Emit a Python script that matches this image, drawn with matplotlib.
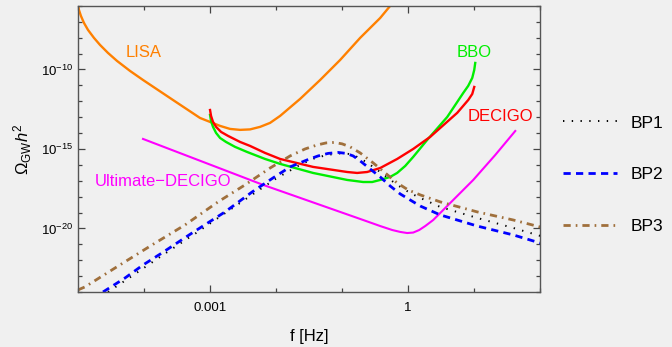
import numpy as np
import matplotlib
matplotlib.use("Agg")
import matplotlib.pyplot as plt

plt.rcParams['font.family'] = ['Liberation Sans', 'DejaVu Sans']
plt.rcParams['mathtext.fontset'] = 'custom'
plt.rcParams['mathtext.rm'] = 'Liberation Sans'
plt.rcParams['mathtext.it'] = 'Liberation Sans:italic'
plt.rcParams['mathtext.bf'] = 'Liberation Sans:bold'

# detector sensitivity curves, log10(f/Hz) and log10(Omega h^2)
lisa_logf = [-5.0, -4.985, -4.955, -4.909, -4.848, -4.758, -4.667, -4.545, -4.409, -4.212,
             -4.015, -3.561, -3.152, -3.0, -2.848, -2.697, -2.545, -2.394, -2.242, -2.091,
             -1.939, -1.636, -1.333, -1.03, -0.727, -0.424, -0.273]
lisa_logo = [-5.94, -6.25, -6.63, -7.07, -7.51, -8.01, -8.45, -8.96, -9.46, -10.09,
             -10.66, -11.92, -13.05, -13.30, -13.55, -13.74, -13.80, -13.77, -13.61, -13.36,
             -12.92, -11.85, -10.66, -9.40, -8.01, -6.76, -6.0]

bbo_logf = [-3.0, -2.985, -2.955, -2.909, -2.848, -2.758, -2.621, -2.439, -2.167, -1.939,
            -1.44, -0.924, -0.682, -0.545, -0.424, -0.273, -0.167, -0.045, 0.076, 0.288,
            0.591, 0.833, 0.909, 0.970, 1.0, 1.015]
bbo_logo = [-12.86, -13.24, -13.61, -13.99, -14.31, -14.56, -14.87, -15.19, -15.63, -15.94,
            -16.51, -16.95, -17.08, -17.08, -16.95, -16.76, -16.51, -16.07, -15.50, -14.43,
            -12.99, -11.48, -11.03, -10.53, -10.03, -9.59]

decigo_logf = [-3.0, -2.985, -2.955, -2.909, -2.833, -2.727, -2.545, -2.394, -2.167, -1.939,
               -1.44, -0.924, -0.773, -0.621, -0.424, -0.167, 0.076, 0.333, 0.742, 0.909,
               0.970, 1.0]
decigo_logo = [-12.55, -12.92, -13.30, -13.61, -13.93, -14.18, -14.56, -14.81, -15.25, -15.63,
               -16.13, -16.45, -16.51, -16.45, -16.20, -15.63, -15.0, -14.24, -12.73, -11.92,
               -11.54, -11.10]

udecigo_logf = [-4.015, -2.197, -0.682, -0.424, -0.242, -0.121, -0.015, 0.076, 0.167, 0.258,
                0.379, 0.682, 0.985, 1.318, 1.621]
udecigo_logo = [-14.37, -17.26, -19.47, -19.85, -20.10, -20.22, -20.29, -20.26, -20.10, -19.85,
                -19.47, -18.21, -16.95, -15.38, -13.87]

# benchmark point spectra
bp1_logf = [-4.545, -4.227, -3.667, -3.212, -2.636, -2.303, -1.985, -1.636, -1.409, -1.227,
            -1.061, -0.909, -0.773, -0.636, -0.424, -0.167, 0.030, 0.182, 0.485, 1.045,
            1.591, 2.0]
bp1_logo = [-24.0, -23.12, -21.54, -20.29, -18.65, -17.71, -16.82, -16.0, -15.57, -15.38,
            -15.28, -15.31, -15.50, -15.82, -16.45, -17.26, -17.77, -18.08, -18.65, -19.34,
            -19.97, -20.47]

bp2_logf = [-4.621, -4.288, -4.015, -3.727, -3.273, -2.773, -2.364, -2.045, -1.788, -1.530,
            -1.364, -1.212, -1.061, -0.939, -0.833, -0.727, -0.576, -0.424, -0.273, -0.121,
            0.030, 0.182, 0.485, 1.045, 1.591, 2.0]
bp2_logo = [-24.0, -23.12, -22.30, -21.54, -20.29, -18.96, -17.71, -16.82, -16.13, -15.69,
            -15.44, -15.28, -15.22, -15.28, -15.44, -15.75, -16.26, -16.76, -17.33, -17.83,
            -18.21, -18.59, -19.15, -19.85, -20.41, -20.92]

bp3_logf = [-5.0, -4.894, -4.439, -3.879, -3.379, -2.879, -2.470, -2.091, -1.788, -1.561,
            -1.379, -1.242, -1.121, -1.0, -0.879, -0.727, -0.530, -0.348, -0.167, 0.0,
            0.182, 0.485, 1.045, 1.591, 2.0]
bp3_logo = [-23.87, -23.68, -22.49, -21.04, -19.78, -18.33, -17.26, -16.20, -15.44, -15.0,
            -14.75, -14.62, -14.59, -14.68, -14.87, -15.25, -15.88, -16.51, -17.14, -17.58,
            -17.89, -18.33, -18.96, -19.47, -19.91]

bg = '#f0f0f0'
fig = plt.figure(figsize=(6.72, 3.47), dpi=100, facecolor=bg)
ax = fig.add_axes([0.116, 0.1585, 0.688, 0.8245])
ax.set_facecolor(bg)


def pw(v):
    return 10.0 ** np.asarray(v)


ax.plot(pw(lisa_logf), pw(lisa_logo), color='#ff8000', lw=1.7)
ax.plot(pw(bbo_logf), pw(bbo_logo), color='#00ee00', lw=1.7)
ax.plot(pw(decigo_logf), pw(decigo_logo), color='#ff0000', lw=1.7)
ax.plot(pw(udecigo_logf), pw(udecigo_logo), color='#ff00ff', lw=1.5)

l1, = ax.plot(pw(bp1_logf), pw(bp1_logo), color='black', lw=1.4,
              linestyle=(0, (0.7, 3.8)), label='BP1')
l2, = ax.plot(pw(bp2_logf), pw(bp2_logo), color='#0000ff', lw=2.0,
              linestyle=(0, (2.6, 1.9)), label='BP2')
l3, = ax.plot(pw(bp3_logf), pw(bp3_logo), color='#a0703c', lw=2.0,
              linestyle=(0, (2.6, 1.8, 0.6, 1.8)), label='BP3')

ax.set_xscale('log')
ax.set_yscale('log')
ax.set_xlim(1e-5, 1e2)
ax.set_ylim(1e-24, 1e-6)

ax.set_xticks([1e-3, 1.0], labels=['0.001', '1'])
ax.set_xticks([10.0 ** k for k in range(-5, 3)], minor=True)
ax.set_yticks([1e-20, 1e-15, 1e-10], labels=[r'$10^{-20}$', r'$10^{-15}$', r'$10^{-10}$'])
ax.set_yticks([10.0 ** k for k in range(-24, -5)], minor=True)
ax.xaxis.set_minor_formatter(plt.NullFormatter())
ax.yaxis.set_minor_formatter(plt.NullFormatter())

ax.tick_params(which='both', direction='in', top=True, right=True,
               color='#444444', labelsize=9.5)
ax.tick_params(which='major', length=5, width=0.9)
ax.tick_params(which='minor', length=3, width=0.9)
ax.tick_params(axis='x', which='major', pad=7)
for s in ax.spines.values():
    s.set_color('#555555')
    s.set_linewidth(1.0)

ax.set_xlabel('f [Hz]', fontsize=12)
ax.set_ylabel(r'$\Omega_{\rm GW}h^2$', fontsize=12)
ax.xaxis.set_label_coords(0.5, -0.13)
ax.yaxis.set_label_coords(-0.096, 0.5)

ax.text(0.141, 0.836, 'LISA', color='#ff8000', fontsize=12,
        ha='center', va='center', transform=ax.transAxes)
ax.text(0.857, 0.836, 'BBO', color='#00ee00', fontsize=12,
        ha='center', va='center', transform=ax.transAxes)
ax.text(0.913, 0.612, 'DECIGO', color='#ff0000', fontsize=12,
        ha='center', va='center', transform=ax.transAxes)
ax.text(0.184, 0.385, 'Ultimate\u2212DECIGO', color='#ff00ff', fontsize=12,
        ha='center', va='center', transform=ax.transAxes)

fig.legend(handles=[l1, l2, l3], loc='center left', bbox_to_anchor=(0.838, 0.497),
           frameon=False, fontsize=12.5, handlelength=3.1, handletextpad=0.8,
           labelspacing=2.1, borderpad=0, borderaxespad=0)

fig.savefig('out.png', dpi=100, facecolor=bg)
